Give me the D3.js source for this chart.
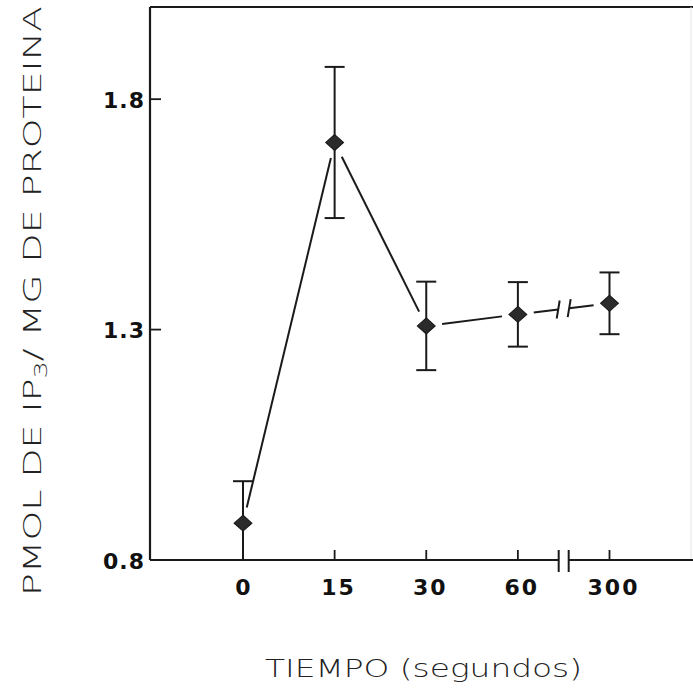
<!DOCTYPE html>
<html>
<head>
<meta charset="utf-8">
<script src="https://cdn.jsdelivr.net/npm/d3@7"></script>
<style>
  html, body { margin: 0; padding: 0; background: #fff; }
  svg { display: block; }
</style>
</head>
<body>
<svg id="chart" width="693" height="689"></svg>
<script>
// IP3 content after stimulation, mean ± SEM
const timeLabels = ["0", "15", "30", "60", "300"];
const meanValues = [0.880, 1.706, 1.308, 1.333, 1.357];
const semValues  = [0.091, 0.164, 0.096, 0.070, 0.067];
const yTickValues = [0.8, 1.3, 1.8];

const W = 693, H = 689;
const frame = { left: 150, right: 691, top: 7, bottom: 560 };
const ink = "#1a1a1a";

const svg = d3.select("#chart");

const x = d3.scaleLinear().domain([0, timeLabels.length - 1]).range([243, 609.5]);
const y = d3.scaleLinear().domain([0.8, 2.0]).range([frame.bottom, frame.top]);

// clip for anything that would spill below the axis
svg.append("defs").append("clipPath").attr("id", "plotClip")
  .append("rect")
  .attr("x", frame.left).attr("y", frame.top)
  .attr("width", frame.right - frame.left).attr("height", frame.bottom - frame.top);

// frame: left, top and faint right edge
svg.append("line").attr("x1", frame.left).attr("x2", frame.left)
  .attr("y1", frame.top).attr("y2", frame.bottom)
  .attr("stroke", ink).attr("stroke-width", 2.2);
svg.append("line").attr("x1", frame.left).attr("x2", W)
  .attr("y1", frame.top).attr("y2", frame.top)
  .attr("stroke", ink).attr("stroke-width", 2.2);
svg.append("line").attr("x1", frame.right).attr("x2", frame.right)
  .attr("y1", frame.top).attr("y2", frame.bottom)
  .attr("stroke", "#e4e4e4").attr("stroke-width", 1);

// bottom axis with a break between 60 and 300
const axisBreak = x(3.5);
const breakHalf = 5;
svg.append("line").attr("x1", frame.left).attr("x2", axisBreak - breakHalf)
  .attr("y1", frame.bottom).attr("y2", frame.bottom)
  .attr("stroke", ink).attr("stroke-width", 2.2);
svg.append("line").attr("x1", axisBreak + breakHalf).attr("x2", W)
  .attr("y1", frame.bottom).attr("y2", frame.bottom)
  .attr("stroke", ink).attr("stroke-width", 2.2);
[-breakHalf, breakHalf].forEach(d => {
  svg.append("line")
    .attr("x1", axisBreak + d).attr("x2", axisBreak + d)
    .attr("y1", frame.bottom - 10).attr("y2", frame.bottom + 12)
    .attr("stroke", ink).attr("stroke-width", 2);
});

// x ticks (inward) and labels
const tickFont = "'DejaVu Sans', Verdana, sans-serif";
timeLabels.forEach((lab, i) => {
  svg.append("line")
    .attr("x1", x(i)).attr("x2", x(i))
    .attr("y1", frame.bottom).attr("y2", frame.bottom - 10)
    .attr("stroke", ink).attr("stroke-width", 1.8);
  svg.append("text")
    .attr("x", x(i) + (i === 0 ? 1 : 4)).attr("y", 587)
    .attr("text-anchor", "middle").attr("dominant-baseline", "central")
    .attr("font-family", tickFont).attr("font-size", 22).attr("font-weight", "bold")
    .attr("letter-spacing", 2).attr("fill", "#111")
    .text(lab);
});

// y ticks (inward) and labels
yTickValues.forEach(v => {
  svg.append("line")
    .attr("x1", frame.left).attr("x2", frame.left + 11)
    .attr("y1", y(v)).attr("y2", y(v))
    .attr("stroke", ink).attr("stroke-width", 1.8);
  svg.append("text")
    .attr("x", 145).attr("y", y(v) + 1)
    .attr("text-anchor", "end").attr("dominant-baseline", "central")
    .attr("font-family", tickFont).attr("font-size", 22).attr("font-weight", "bold")
    .attr("letter-spacing", 1).attr("fill", "#111")
    .text(d3.format(".1f")(v));
});

const plot = svg.append("g").attr("clip-path", "url(#plotClip)");

// connecting lines, stopping short of the markers
const pts = meanValues.map((v, i) => [x(i), y(v)]);
const gap = 16;
function shortened(a, b, gapA, gapB) {
  const dx = b[0] - a[0], dy = b[1] - a[1];
  const L = Math.hypot(dx, dy);
  return [[a[0] + dx * gapA / L, a[1] + dy * gapA / L],
          [b[0] - dx * gapB / L, b[1] - dy * gapB / L]];
}
for (let i = 0; i < 3; i++) {
  const [p, q] = shortened(pts[i], pts[i + 1], gap, gap);
  plot.append("line")
    .attr("x1", p[0]).attr("y1", p[1]).attr("x2", q[0]).attr("y2", q[1])
    .attr("stroke", ink).attr("stroke-width", 2);
}
// last segment drawn with a break at the axis break
{
  const a = pts[3], b = pts[4];
  const lerp = t => [a[0] + (b[0] - a[0]) * t, a[1] + (b[1] - a[1]) * t];
  const tMid = (axisBreak - a[0]) / (b[0] - a[0]);
  const tHalf = 5.5 / (b[0] - a[0]);
  const left = lerp(tMid - tHalf);
  const right = lerp(tMid + tHalf);
  const [s1, e2] = shortened(a, b, gap, gap);
  plot.append("line")
    .attr("x1", s1[0]).attr("y1", s1[1]).attr("x2", left[0]).attr("y2", left[1])
    .attr("stroke", ink).attr("stroke-width", 2);
  plot.append("line")
    .attr("x1", right[0]).attr("y1", right[1]).attr("x2", e2[0]).attr("y2", e2[1])
    .attr("stroke", ink).attr("stroke-width", 2);
  [left, right].forEach(p => {
    plot.append("line")
      .attr("x1", p[0] - 1.5).attr("y1", p[1] + 9)
      .attr("x2", p[0] + 1.5).attr("y2", p[1] - 9)
      .attr("stroke", ink).attr("stroke-width", 2);
  });
}

// error bars
meanValues.forEach((v, i) => {
  const lo = v - semValues[i], hi = v + semValues[i];
  const cx = x(i);
  plot.append("line")
    .attr("x1", cx).attr("x2", cx).attr("y1", y(lo)).attr("y2", y(hi))
    .attr("stroke", ink).attr("stroke-width", 2);
  [lo, hi].forEach(e => {
    plot.append("line")
      .attr("x1", cx - 10).attr("x2", cx + 10).attr("y1", y(e)).attr("y2", y(e))
      .attr("stroke", ink).attr("stroke-width", 2);
  });
});

// diamond markers
const diamond = d3.symbol().type(d3.symbolDiamond2).size(200);
plot.selectAll("path.marker")
  .data(meanValues)
  .join("path")
  .attr("class", "marker")
  .attr("transform", (d, i) => `translate(${x(i)},${y(d)}) scale(1,0.9)`)
  .attr("d", diamond)
  .attr("fill", "#2b2b2b")
  .attr("stroke", ink).attr("stroke-width", 1.2);

// axis titles
const titleFont = "'DejaVu Sans', 'Noto Sans', sans-serif";
svg.append("text")
  .attr("x", 265).attr("y", 677)
  .attr("font-family", titleFont).attr("font-size", 25).attr("font-weight", 300)
  .attr("fill", "#222")
  .attr("textLength", 317).attr("lengthAdjust", "spacingAndGlyphs")
  .text("TIEMPO (segundos)");

const yt = svg.append("text")
  .attr("transform", "translate(41,596) rotate(-90)")
  .attr("x", 0).attr("y", 0)
  .attr("font-family", titleFont).attr("font-size", 25).attr("font-weight", 300)
  .attr("fill", "#222")
  .attr("textLength", 590).attr("lengthAdjust", "spacingAndGlyphs");
yt.append("tspan").text("PMOL DE IP");
yt.append("tspan").attr("dy", 6).attr("font-size", 18).text("3");
yt.append("tspan").attr("dy", -6).text("/ MG DE PROTEINA");
</script>
</body>
</html>
